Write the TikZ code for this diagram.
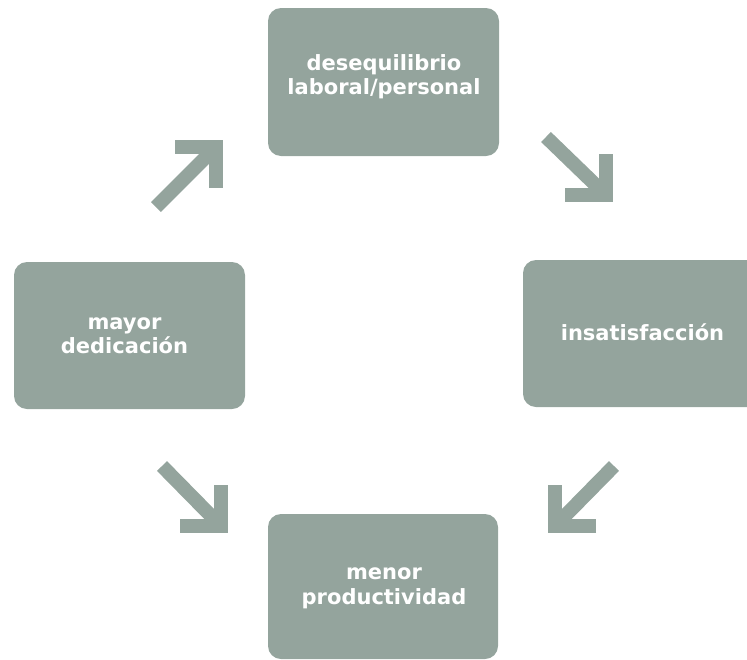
\documentclass[tikz,border=0pt]{standalone}
\usepackage{fontspec}
\setmainfont{DejaVu Sans}
\definecolor{boxc}{RGB}{148,164,157}
\tikzset{
  cyclebox/.style={fill=boxc, rounded corners=13pt, inner sep=0pt},
  boxtext/.style={text=white, font=\bfseries\fontsize{21}{24}\selectfont, inner sep=0pt, anchor=base},
  shaftline/.style={draw=boxc, line width=14pt},
  headline/.style={draw=boxc, line width=14pt, line join=miter},
}
\begin{document}
\begin{tikzpicture}[x=1pt,y=-1pt]
\useasboundingbox (0,0) rectangle (747,659);
% boxes
\node[cyclebox, minimum width=231pt, minimum height=148pt] (top) at (383.5,82) {};
\node[cyclebox, minimum width=238pt, minimum height=147pt] (right) at (642,333.5) {};
\node[cyclebox, minimum width=231pt, minimum height=147pt] (left) at (129.5,335.5) {};
\node[cyclebox, minimum width=230pt, minimum height=145pt] (bottom) at (383,586.5) {};
% texts
\node[boxtext] (top1) at (384,70.7) {desequilibrio};
\node[boxtext] (top2) at (384,94) {laboral/personal};
\node[boxtext] (right1) at (642.5,340.7) {insatisfacción};
\node[boxtext] (left1) at (124.5,329.3) {mayor};
\node[boxtext] (left2) at (124.5,353.3) {dedicación};
\node[boxtext] (bottom1) at (384,579.3) {menor};
\node[boxtext] (bottom2) at (384,604.3) {productividad};
% arrow 1: left -> top (up-right)
\coordinate (a1t) at (156,207);
\coordinate (a1c) at (216,147);
\coordinate (a1l) at (175,147);
\coordinate (a1r) at (216,188);
\draw[shaftline] (a1t) -- (a1c);
\draw[headline] (a1l) -- (a1c) -- (a1r);
% arrow 2: top -> right (down-right)
\coordinate (a2t) at (546,137);
\coordinate (a2c) at (606,195);
\coordinate (a2l) at (565,195);
\coordinate (a2r) at (606,154);
\draw[shaftline] (a2t) -- (a2c);
\draw[headline] (a2l) -- (a2c) -- (a2r);
% arrow 3: left -> bottom (down-right)
\coordinate (a3t) at (162,466);
\coordinate (a3c) at (221,526);
\coordinate (a3l) at (180,526);
\coordinate (a3r) at (221,485);
\draw[shaftline] (a3t) -- (a3c);
\draw[headline] (a3l) -- (a3c) -- (a3r);
% arrow 4: right -> bottom (down-left)
\coordinate (a4t) at (614,466);
\coordinate (a4c) at (555,526);
\coordinate (a4l) at (596,526);
\coordinate (a4r) at (555,485);
\draw[shaftline] (a4t) -- (a4c);
\draw[headline] (a4l) -- (a4c) -- (a4r);
\end{tikzpicture}
\end{document}
